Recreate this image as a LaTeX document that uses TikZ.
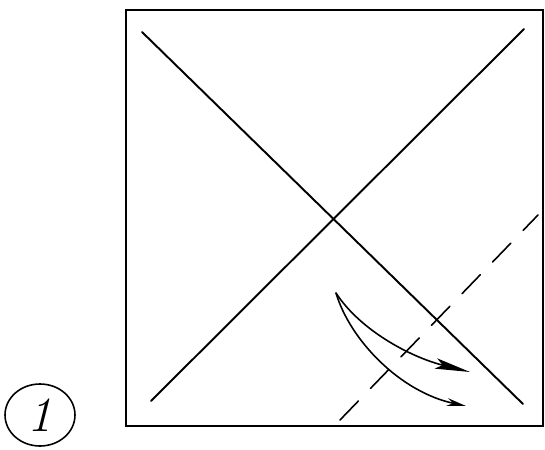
\documentclass[tikz,border=0pt]{standalone}
\usepackage{tikz}
\usetikzlibrary{arrows.meta,shapes.geometric}

\begin{document}
\begin{tikzpicture}[x=0.02cm,y=-0.02cm,line cap=round,
  fold/.style={line width=0.9pt,dash pattern=on 15pt off 10pt},
  mv/.style={line width=0.9pt}]
  \useasboundingbox (0,0) rectangle (545,450);
  \coordinate (tl) at (126,10);  \coordinate (br) at (543,426);
  \coordinate (d1a) at (142,32); \coordinate (d1b) at (523,404);
  \coordinate (d2a) at (151,401); \coordinate (d2b) at (524,29);
  \coordinate (fa) at (340,420); \coordinate (fb) at (538,215);
  \coordinate (s) at (336,293);
  \draw[line width=1.7pt,line cap=butt] (tl) rectangle (br);
  \draw[line width=1.1pt] (d1a) -- (d1b);
  \draw[line width=1.1pt] (d2a) -- (d2b);
  \draw[fold] (fa) -- (fb);
  \draw[mv,-{Stealth[length=20pt,width=6pt,inset=4pt]}]
    (s) .. controls (360,330) and (410,357) .. (470,372);
  \draw[mv,-{Stealth[length=11pt,width=4.5pt]}]
    (s) .. controls (350,340) and (400,392) .. (466,406);
  \node[draw,ellipse,line width=0.9pt,minimum width=70*0.02cm,minimum height=62*0.02cm,
    inner sep=0pt,font=\fontsize{28}{28}\selectfont\itshape] (step1) at (40,415) {1};
\end{tikzpicture}
\end{document}
